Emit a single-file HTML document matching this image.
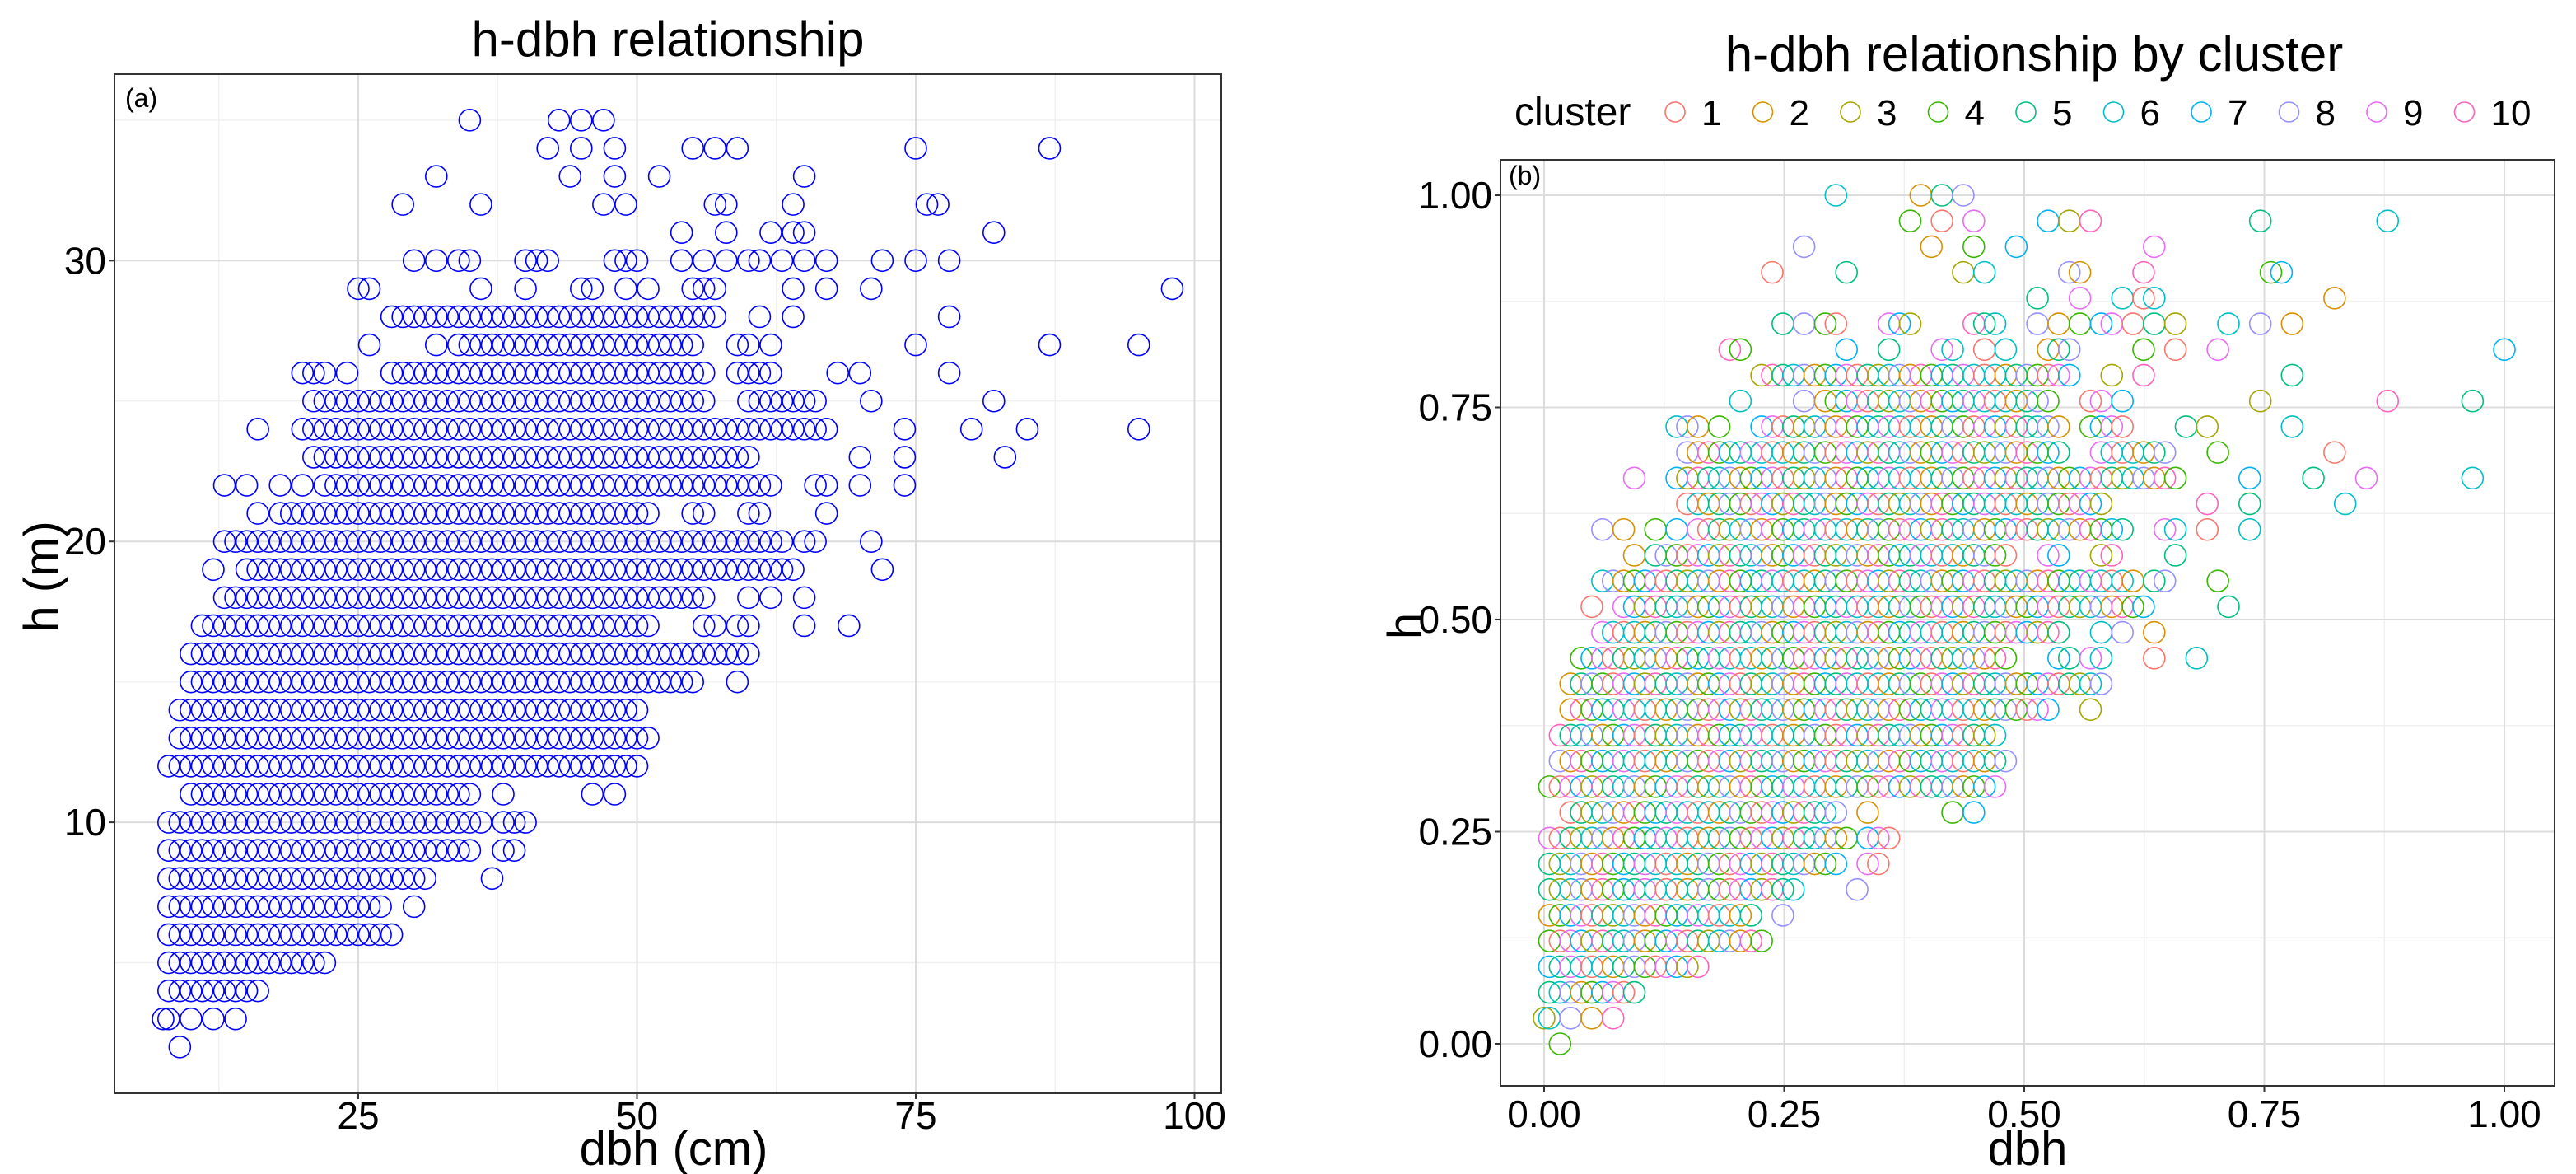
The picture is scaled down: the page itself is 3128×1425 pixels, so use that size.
<!DOCTYPE html>
<html><head><meta charset="utf-8">
<style>
html,body{margin:0;padding:0;background:#fff;}
svg{display:block;font-family:"Liberation Sans",Arial,sans-serif;}
</style></head>
<body>
<svg id="fig" width="3128" height="1425" viewBox="0 0 3128 1425" xmlns="http://www.w3.org/2000/svg">
<rect x="0" y="0" width="3128" height="1425" fill="#fff"/>
<text x="811" y="68" font-size="60" text-anchor="middle">h-dbh relationship</text>
<text x="2470" y="86" font-size="60" text-anchor="middle">h-dbh relationship by cluster</text>
<g id="left"></g>
<g id="right"></g>
<g id="legend">
<text x="1839" y="152" font-size="48">cluster</text>
</g>
</svg>
<script>
// Data: tree height rows (m) and dbh values (cm) for each row; "a-b" = consecutive integer dbh values
const heights = [35,34,33,32,31,30,29,28,27,26,25,24,23,22,21,20,19,18,17,16,15,14,13,12,11,10,9,8,7,6,5,4,3,2];
const dbhRows = [
"35,43,45,47",
"42,45,48,55,57,59,75,87",
"32,44,48,52,65",
"29,36,47,49,57,58,64,76,77",
"54,58,62,64,65,82",
"30,32,34,35,40,41,42,48,49,50,54,56,58,60,61,63,65,67,72,75,78",
"25,26,36,40,45,46,49,51,55,56,57,64,67,71,98",
"28-57,61,64,78",
"26,32,34-55,59,60,62,75,87,95",
"20,21,22,24,28-56,59-62,68,70,78",
"21-56,60-66,71,82",
"16,20-67,74,80,85,95",
"21-60,70,74,83",
"13,15,18,20,22-62,66,67,70,74",
"16,18-51,55,56,60,61,67",
"13-63,65,66,71",
"12,15-64,72",
"13-56,60,62,65",
"11-51,56,57,59,60,65,69",
"10-60",
"10-55,59",
"9-50",
"9-51",
"8-50",
"10-35,38,46,48",
"8-36,38,39,40",
"8-35,38,39",
"8-31,37",
"8-27,30",
"8-28",
"8-22",
"8-16",
"7.5,8,10,12,14",
"9"
];
// cluster label sequence observed (cycled over points in reading order)
const clusterSeq = [6,2,5,8,4,1,9,7,3,10,5,6,8,2,4,7,9,1,5,3,6,8,2,10,4,7,5,9,6,1];
const leftXTicks = [25,50,75,100];
const leftYTicks = [10,20,30];
const rightTicks = [0,0.25,0.5,0.75,1];
const rightTickLabels = ["0.00","0.25","0.50","0.75","1.00"];
const clusterNames = ["1","2","3","4","5","6","7","8","9","10"];
const clusterColors = ["#F8766D","#D89000","#A3A500","#39B600","#00BF7D","#00BFC4","#00B0F6","#9590FF","#E76BF3","#FF62BC"];

const NS="http://www.w3.org/2000/svg";
function mk(tag,attrs,parent){const e=document.createElementNS(NS,tag);for(const k in attrs)e.setAttribute(k,attrs[k]);parent.appendChild(e);return e;}
function parseRow(s){const out=[];s.split(",").forEach(p=>{if(p.indexOf("-")>0){const [a,b]=p.split("-").map(Number);for(let v=a;v<=b;v++)out.push(v);}else out.push(Number(p));});return out;}
const points=[];
heights.forEach((h,i)=>{parseRow(dbhRows[i]).forEach(d=>points.push({h:h,d:d}));});
const dMin=Math.min(...points.map(p=>p.d)), dMax=Math.max(...points.map(p=>p.d));
const hMin=Math.min(...points.map(p=>p.h)), hMax=Math.max(...points.map(p=>p.h));

// ---------- Left panel ----------
const L={x0:139,x1:1483,y0:90,y1:1327};
const lx=d=>96.5+d*13.54;
const ly=h=>1339-h*34.09;
const left=document.getElementById('left');
[12.5,37.5,62.5,87.5].forEach(v=>{const g=mk('line',{x1:lx(v),x2:lx(v),y1:L.y0,y2:L.y1,stroke:'#f0f0f0','stroke-width':1.5},left);

});
[5,15,25,35].forEach(v=>{const g=mk('line',{x1:L.x0,x2:L.x1,y1:ly(v),y2:ly(v),stroke:'#f0f0f0','stroke-width':1.5},left);

});
leftXTicks.forEach(v=>{const g=mk('line',{x1:lx(v),x2:lx(v),y1:L.y0,y2:L.y1,stroke:'#dcdcdc','stroke-width':2},left);


const t=mk('line',{x1:lx(v),x2:lx(v),y1:L.y1,y2:L.y1+7,stroke:'#333','stroke-width':2},left);


const tx=mk('text',{x:lx(v),y:1370,'font-size':46,'text-anchor':'middle',fill:'#000'},left);tx.textContent=v;

});
leftYTicks.forEach(v=>{const g=mk('line',{x1:L.x0,x2:L.x1,y1:ly(v),y2:ly(v),stroke:'#dcdcdc','stroke-width':2},left);


const t=mk('line',{x1:L.x0-7,x2:L.x0,y1:ly(v),y2:ly(v),stroke:'#333','stroke-width':2},left);


const tx=mk('text',{x:L.x0-10,y:ly(v)+16,'font-size':46,'text-anchor':'end',fill:'#000'},left);tx.textContent=v;

});
points.forEach(p=>{const c=mk('circle',{cx:lx(p.d),cy:ly(p.h),r:13,fill:'none',stroke:'#0000FF','stroke-width':1.6},left);

});
const lb=mk('rect',{x:L.x0,y:L.y0,width:L.x1-L.x0,height:L.y1-L.y0,fill:'none',stroke:'#333','stroke-width':2},left);


let t;
t=mk('text',{x:152,y:130,'font-size':32},left);t.textContent='(a)';


t=mk('text',{x:818,y:1414,'font-size':58,'text-anchor':'middle'},left);t.textContent='dbh (cm)';


t=mk('text',{x:0,y:0,'font-size':58,'text-anchor':'middle',transform:'translate(70,700) rotate(-90)'},left);t.textContent='h (m)';



// ---------- Right panel ----------
const R={x0:1822,x1:3102,y0:194,y1:1318};
const rx=v=>1875+v*1166;
const ry=v=>1267-v*1030;
const right=document.getElementById('right');
[0.125,0.375,0.625,0.875].forEach(v=>{let g=mk('line',{x1:rx(v),x2:rx(v),y1:R.y0,y2:R.y1,stroke:'#f0f0f0','stroke-width':1.5},right);


g=mk('line',{x1:R.x0,x2:R.x1,y1:ry(v),y2:ry(v),stroke:'#f0f0f0','stroke-width':1.5},right);

});
rightTicks.forEach((v,i)=>{let g=mk('line',{x1:rx(v),x2:rx(v),y1:R.y0,y2:R.y1,stroke:'#dcdcdc','stroke-width':2},right);


g=mk('line',{x1:R.x0,x2:R.x1,y1:ry(v),y2:ry(v),stroke:'#dcdcdc','stroke-width':2},right);


let tk=mk('line',{x1:rx(v),x2:rx(v),y1:R.y1,y2:R.y1+7,stroke:'#333','stroke-width':2},right);


tk=mk('line',{x1:R.x0-7,x2:R.x0,y1:ry(v),y2:ry(v),stroke:'#333','stroke-width':2},right);


let tx=mk('text',{x:rx(v),y:1368,'font-size':46,'text-anchor':'middle'},right);tx.textContent=rightTickLabels[i];


tx=mk('text',{x:R.x0-10,y:ry(v)+16,'font-size':46,'text-anchor':'end'},right);tx.textContent=rightTickLabels[i];

});
points.forEach((p,i)=>{const cl=clusterSeq[i%clusterSeq.length];
const c=mk('circle',{cx:rx((p.d-dMin)/(dMax-dMin)),cy:ry((p.h-hMin)/(hMax-hMin)),r:13,fill:'none',stroke:clusterColors[cl-1],'stroke-width':1.6},right);

});
const rb=mk('rect',{x:R.x0,y:R.y0,width:R.x1-R.x0,height:R.y1-R.y0,fill:'none',stroke:'#333','stroke-width':2},right);


t=mk('text',{x:1832,y:224,'font-size':32},right);t.textContent='(b)';


t=mk('text',{x:2462,y:1414,'font-size':58,'text-anchor':'middle'},right);t.textContent='dbh';


t=mk('text',{x:0,y:0,'font-size':58,'text-anchor':'middle',transform:'translate(1726,760) rotate(-90)'},right);t.textContent='h';



// ---------- Legend ----------
const lg=document.getElementById('legend');
clusterNames.forEach((n,i)=>{const cx=2034+i*106.5;
const c=mk('circle',{cx:cx,cy:136,r:12,fill:'none',stroke:clusterColors[i],'stroke-width':1.6},lg);


const tx=mk('text',{x:cx+32,y:152,'font-size':44},lg);tx.textContent=n;

});
</script>
</body></html>
